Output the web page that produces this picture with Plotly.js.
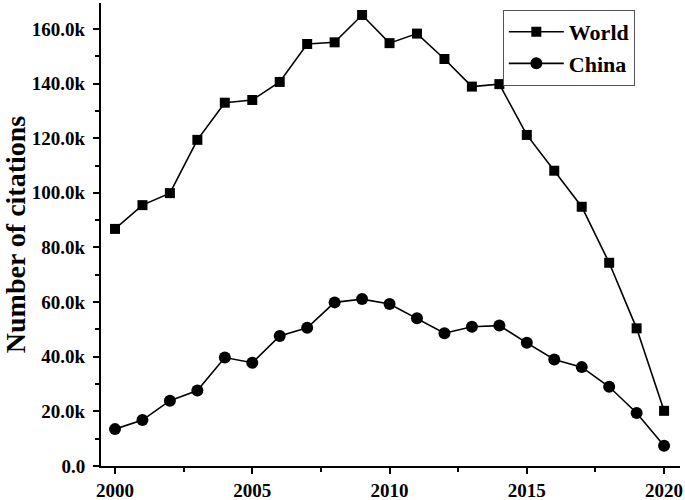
<!DOCTYPE html>
<html>
<head>
<meta charset="utf-8">
<script src="https://cdn.plot.ly/plotly-3.0.1.min.js"></script>
<style>
  html, body { margin: 0; padding: 0; background: #fff; }
  #chart { width: 685px; height: 500px; }
</style>
</head>
<body>
<div id="chart"></div>
<script>
var years = [2000, 2001, 2002, 2003, 2004, 2005, 2006, 2007, 2008, 2009, 2010,
             2011, 2012, 2013, 2014, 2015, 2016, 2017, 2018, 2019, 2020];
var world = [86800, 95500, 99900, 119400, 133000, 134000, 140600, 154500, 155100, 165100, 154800,
             158300, 149000, 138900, 139800, 121200, 108100, 94900, 74400, 50400, 20200];
var china = [13500, 16800, 23900, 27600, 39700, 37800, 47600, 50600, 59900, 61100, 59300,
             54100, 48600, 51000, 51400, 45100, 39000, 36200, 29000, 19400, 7400];
var yTicks = [0, 20000, 40000, 60000, 80000, 100000, 120000, 140000, 160000];
var yTickText = yTicks.map(function (v) { return v === 0 ? '0.0' : (v / 1000).toFixed(1) + 'k'; });

var serif = 'Liberation Serif, Times New Roman, serif';

var trace1 = {
  x: years,
  y: world,
  name: 'World',
  type: 'scatter',
  mode: 'lines+markers',
  line: {color: '#000', width: 1.6},
  marker: {symbol: 'square', size: 10, color: '#000'}
};
var trace2 = {
  x: years,
  y: china,
  name: 'China',
  type: 'scatter',
  mode: 'lines+markers',
  line: {color: '#000', width: 1.6},
  marker: {symbol: 'circle', size: 12, color: '#000'}
};

var layout = {
  width: 685,
  height: 500,
  margin: {l: 101, r: 5, t: 3, b: 34},
  paper_bgcolor: '#fff',
  plot_bgcolor: '#fff',
  font: {family: serif, color: '#000'},
  showlegend: true,
  legend: {
    x: 0.694, y: 0.985, xanchor: 'left', yanchor: 'top',
    bgcolor: '#fff', bordercolor: '#555', borderwidth: 1,
    font: {family: serif, size: 22, color: '#000', weight: 'bold'},
    tracegroupgap: 0, itemwidth: 55
  },
  xaxis: {
    range: [1999.49, 2020.58],
    tickmode: 'linear', tick0: 2000, dtick: 5,
    ticks: 'outside', ticklen: 6, tickwidth: 2, tickcolor: '#000',
    minor: {ticks: 'outside', ticklen: 4, tickwidth: 2, tickcolor: '#000', dtick: 2.5, showgrid: false},
    showline: true, linewidth: 2, linecolor: '#000',
    showgrid: false, zeroline: false,
    tickfont: {family: serif, size: 19, color: '#000', weight: 'bold'}
  },
  yaxis: {
    range: [0, 169500],
    tickmode: 'array', tickvals: yTicks, ticktext: yTickText,
    ticks: 'outside', ticklen: 6, tickwidth: 2, tickcolor: '#000',
    minor: {ticks: 'outside', ticklen: 4, tickwidth: 2, tickcolor: '#000', dtick: 10000, showgrid: false},
    showline: true, linewidth: 2, linecolor: '#000',
    showgrid: false, zeroline: false,
    ticklabelstandoff: 4,
    tickfont: {family: serif, size: 19, color: '#000', weight: 'bold'},
    title: {text: 'Number of citations', standoff: 6,
            font: {family: serif, size: 28, color: '#000', weight: 'bold'}}
  }
};

Plotly.newPlot('chart', [trace1, trace2], layout, {displayModeBar: false, staticPlot: true});
</script>
</body>
</html>
